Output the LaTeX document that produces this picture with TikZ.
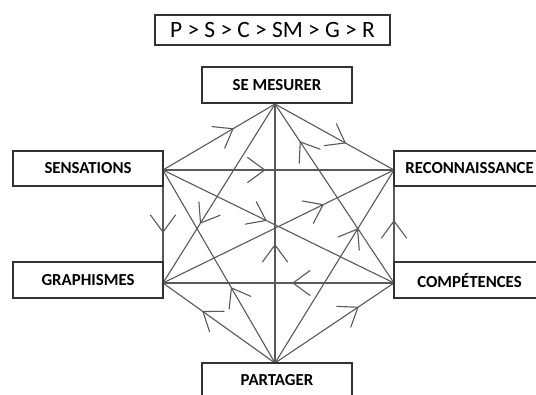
\documentclass[tikz,border=0pt]{standalone}
\usepackage{fontspec}
\setmainfont{Carlito}
\usetikzlibrary{decorations.markings}
\begin{document}
\begin{tikzpicture}[x=1pt,y=-1pt,
  box/.style={draw=black!80, line width=1.1pt, fill=white, inner sep=0pt, font=\bfseries\fontsize{16.8}{19}\selectfont},
  lnk/.style={draw=black!65, line width=1.1pt},
  arr/.style={lnk, postaction={decorate}, decoration={markings, mark=at position #1 with {\draw[black!65, line width=1.1pt, line cap=round] (-17,12.5) -- (0,0) -- (-17,-12.5);}}}]
\useasboundingbox (0,0) rectangle (536,394);
\clip (0,0) rectangle (536,394);
\fill[white] (0,0) rectangle (536,394);
% title
\node[draw=black!80, line width=1.1pt, minimum width=235pt, minimum height=30pt, inner sep=0pt, font=\fontsize{23.4}{26}\selectfont] (title) at (272.5,30) {P > S > C > SM > G > R};
% vertices
\coordinate (sm) at (275,104);
\coordinate (s) at (163,170);
\coordinate (r) at (394,170);
\coordinate (g) at (163,283);
\coordinate (c) at (394,283);
\coordinate (p) at (275,363);
% connectors
\draw[arr=0.625] (s) -- (sm);
\draw[arr=0.44] (s) -- (r);
\draw[arr=0.59] (sm) -- (r);
\draw[arr=0.665] (sm) -- (g);
\draw[arr=0.446] (s) -- (c);
\draw[arr=0.389] (p) -- (s);
\draw[arr=0.549] (s) -- (g);
\draw[arr=0.693] (g) -- (r);
\draw[arr=0.549] (c) -- (r);
\draw[arr=0.694] (p) -- (r);
\draw[arr=0.437] (c) -- (g);
\draw[arr=0.643] (p) -- (g);
\draw[arr=0.697] (p) -- (c);
\draw[arr=0.456] (p) -- (sm);
\draw[arr=0.788] (c) -- (sm);
% boxes
\node[box, minimum width=150pt, minimum height=36pt] (smes) at (277,85) {SE MESURER};
\node[box, minimum width=150pt, minimum height=35pt] (sens) at (88,168.5) {SENSATIONS};
\node[box, minimum width=150pt, minimum height=36pt] (graph) at (88,280) {GRAPHISMES};
\node[box, minimum width=151pt, minimum height=35pt] (reco) at (469.5,168.5) {RECONNAISSANCE};
\node[box, minimum width=151pt, minimum height=36pt] (comp) at (469.5,280) {COMPÉTENCES};
\node[box, minimum width=150pt, minimum height=34pt] (part) at (277,380) {PARTAGER};
\end{tikzpicture}
\end{document}
